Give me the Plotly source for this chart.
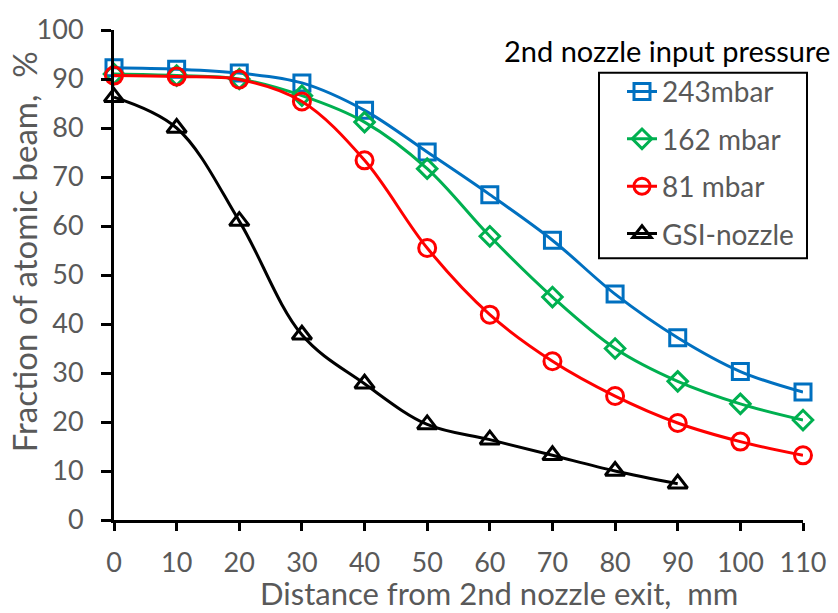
import plotly.graph_objects as go

# Distance from the 2nd nozzle exit (mm)
distance = [0, 10, 20, 30, 40, 50, 60, 70, 80, 90, 100, 110]
distance_gsi = [0, 10, 20, 30, 40, 50, 60, 70, 80, 90]

# Fraction of atomic beam (%)
p243 = [92.3, 92.0, 91.2, 89.2, 83.6, 75.1, 66.4, 57.1, 46.1, 37.2, 30.3, 26.1]
p162 = [91.0, 90.7, 90.0, 86.6, 81.2, 71.7, 57.9, 45.5, 35.0, 28.3, 23.7, 20.4]
p81 = [90.7, 90.5, 89.9, 85.4, 73.4, 55.5, 41.9, 32.4, 25.3, 19.8, 16.0, 13.2]
gsi = [86.3, 80.0, 61.0, 37.8, 27.8, 19.5, 16.4, 13.2, 10.0, 7.4]

series = [
    ("243mbar", distance, p243, "#0070C0", "square-open", 16),
    ("162 mbar", distance, p162, "#00B050", "diamond-open", 15),
    ("81 mbar", distance, p81, "#FF0000", "circle-open", 17),
    ("GSI-nozzle", distance_gsi, gsi, "#000000", "triangle-up-open", 17),
]

FONT = "Lato, Carlito, Calibri, sans-serif"
GREY = "#595959"

# plot-area geometry in pixels
L, R, T, B = 114, 803, 26, 520
W, H = R - L, B - T


def px(x):
    return (x - L) / W


def py(y):
    return (B - y) / H


fig = go.Figure()
for i, (name, xs, ys, color, symbol, size) in enumerate(series):
    fig.add_trace(go.Scatter(
        x=xs, y=ys, name=name, mode="lines+markers",
        legendgroup=f"g{i}",
        line=dict(color=color, width=3, shape="spline", smoothing=1.0),
        marker=dict(symbol=symbol, size=size, color=color,
                    line=dict(color=color, width=3)),
        cliponaxis=False,
    ))

axis_common = dict(
    showgrid=False, zeroline=False, showline=True,
    linecolor="black", linewidth=3,
    ticks="outside", tickcolor="black", tickwidth=3,
    tickfont=dict(family=FONT, size=27, color=GREY),
)

fig.update_xaxes(range=[0, 110], tickmode="array",
                 tickvals=distance, ticklen=8, ticklabelstandoff=9,
                 **axis_common)
fig.update_yaxes(range=[0, 100], tickmode="array",
                 tickvals=list(range(0, 101, 10)), ticklen=10,
                 ticklabelstandoff=12, **axis_common)

fig.add_annotation(
    text="Distance from 2nd nozzle exit,  mm", xref="paper", yref="paper",
    x=px(499), y=py(594), showarrow=False,
    xanchor="center", yanchor="middle",
    font=dict(family=FONT, size=31, color=GREY),
)
fig.add_annotation(
    text="Fraction of atomic beam,  %", xref="paper", yref="paper",
    x=px(24), y=py(250), showarrow=False, textangle=-90,
    xanchor="center", yanchor="middle",
    font=dict(family=FONT, size=33, color=GREY),
)
fig.add_annotation(
    text="2nd nozzle input pressure", xref="paper", yref="paper",
    x=px(667), y=py(47), showarrow=False,
    xanchor="center", yanchor="middle",
    font=dict(family=FONT, size=29, color="black"),
)

# legend frame
fig.add_shape(type="rect", xref="paper", yref="paper",
              x0=px(599), x1=px(807), y0=py(256), y1=py(69),
              line=dict(color="black", width=2), fillcolor="white",
              layer="below")

fig.update_layout(
    width=838, height=613,
    margin=dict(l=L, r=838 - R, t=T, b=613 - B),
    paper_bgcolor="white", plot_bgcolor="white",
    legend=dict(
        x=px(622), y=py(63),
        xanchor="left", yanchor="top",
        borderwidth=0, bgcolor="rgba(0,0,0,0)",
        font=dict(family=FONT, size=28, color=GREY),
        tracegroupgap=8,
    ),
    showlegend=True,
)

fig.write_html("out.html")
